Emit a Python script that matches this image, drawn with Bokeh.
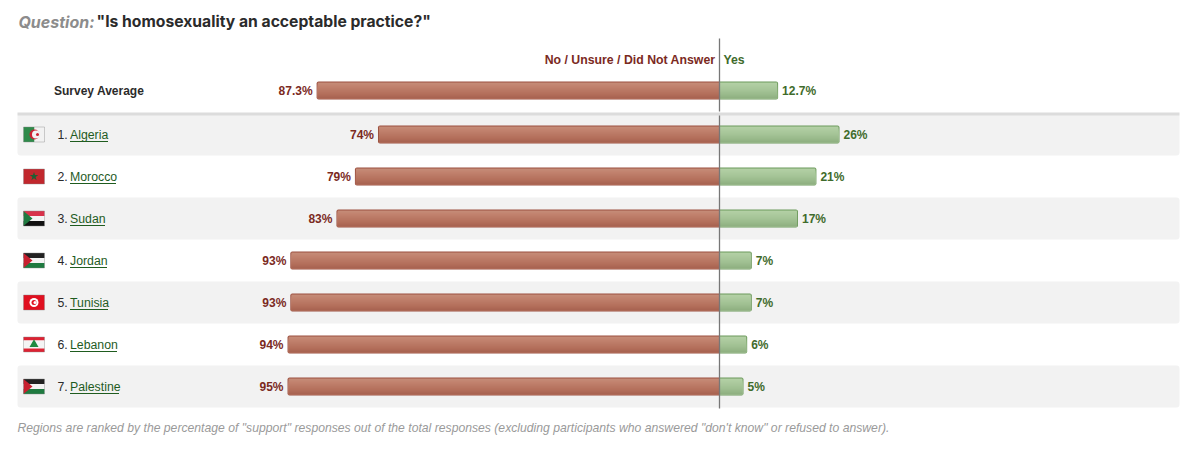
from bokeh.plotting import figure
from bokeh.embed import file_html
from bokeh.resources import INLINE
from bokeh.models import Range1d
from bokeh.core.properties import value

# ---- data ----
countries = ["Algeria", "Morocco", "Sudan", "Jordan", "Tunisia", "Lebanon", "Palestine"]
no_bar = [74, 79, 83, 93, 93, 93.6, 93.6]
yes_bar = [26, 21, 17, 7, 7, 6, 5.2]
no_labels = ["74%", "79%", "83%", "93%", "93%", "94%", "95%"]
yes_labels = ["26%", "21%", "17%", "7%", "7%", "6%", "5%"]
avg_no = 87.3
avg_yes = 12.7
avg_label_no = "87.3%"
avg_label_yes = "12.7%"

W, H = 1200, 466
SCALE = 4.615            # pixels per percentage point
ZERO = 719

p = figure(width=W, height=H, output_backend="svg", toolbar_location=None,
           x_range=Range1d(-ZERO / SCALE, (W - ZERO) / SCALE),
           y_range=Range1d(H, 0), min_border=0,
           background_fill_color="white", border_fill_color="white")
p.extra_x_ranges["px"] = Range1d(0, W)
p.axis.visible = False
p.grid.visible = False
p.outline_line_color = None

DARK = "#2b2b2b"
RED = "#7b2a1e"
GREEN = "#3f6b2c"
LINK = "#1f5c1f"
FONT = value("Liberation Sans")
row_c = [134, 176, 218, 260, 302, 344, 386]
avg_c = 90


def txt(x, y, s, size="12px", color=DARK, style="normal", align="left", font=FONT):
    p.text(x=[x], y=[y], text=[s], text_font=font, text_font_size=size,
           text_color=color, text_font_style=style, text_align=align, text_baseline="middle",
           x_range_name="px")


# row backgrounds
for i, c in enumerate(row_c):
    if i % 2 == 0:
        p.quad(left=[17], right=[1179], top=[c - 21], bottom=[c + 21],
               fill_color="#f2f2f2", line_color=None, border_radius=3, x_range_name="px")
# separator below the average row
p.quad(left=[17], right=[1179], top=[112], bottom=[115], fill_color="#dcdcdc",
       line_color=None, x_range_name="px")

RED_BANDS = ["#c48a76", "#c28470", "#bf7f6b", "#bb7a66", "#b87561", "#b4705c", "#af6a57", "#a96452"]
GREEN_BANDS = ["#b2cfa4", "#aecca0", "#aac89c", "#a6c598", "#a1c193", "#9cbc8e", "#96b788", "#90b182"]
BAR_H = 18


def bar(c, v, sign, border, bands):
    left, right = (sign * v, 0) if sign < 0 else (0, v)
    radius = dict(top_left=2, bottom_left=2) if sign < 0 else dict(top_right=2, bottom_right=2)
    p.hbar(y=[c], left=[left], right=[right], height=BAR_H, fill_color=border,
           line_color=None, border_radius=radius)
    inset = 1 / SCALE
    n = len(bands)
    bh = (BAR_H - 2) / n
    l2 = left + inset if sign < 0 else left
    r2 = right if sign < 0 else right - inset
    # painted top to bottom, each band running under the next, so no seams show
    for k, col in enumerate(bands):
        top = c - BAR_H / 2 + 1 + bh * k
        bottom = c + BAR_H / 2 - 1
        p.quad(left=[l2], right=[r2], top=[top], bottom=[bottom], fill_color=col, line_color=None)


all_c = [avg_c] + row_c
all_no = [avg_no] + no_bar
all_yes = [avg_yes] + yes_bar
all_nl = [avg_label_no] + no_labels
all_yl = [avg_label_yes] + yes_labels
for c, n, y, nl, yl in zip(all_c, all_no, all_yes, all_nl, all_yl):
    bar(c, n, -1, "#9c5141", RED_BANDS)
    bar(c, y, 1, "#6d9a5c", GREEN_BANDS)
    p.text(x=[-n - 4 / SCALE], y=[c], text=[nl], text_font=FONT, text_font_size="12px", text_color=RED,
           text_font_style="bold", text_align="right", text_baseline="middle")
    p.text(x=[y + 4 / SCALE], y=[c], text=[yl], text_font=FONT, text_font_size="12px", text_color=GREEN,
           text_font_style="bold", text_align="left", text_baseline="middle")

# centre line, broken at the separator
for y0, y1 in [(38, 111), (115, 408)]:
    p.segment(x0=[0], x1=[0], y0=[y0], y1=[y1], line_color="#777777", line_width=1.3)

# title
txt(18, 21, "Question:", "16px", "#8c8c8c", "bold italic", font=value("Inter"))
txt(96, 21, "\"Is homosexuality an acceptable practice?\"", "15.7px", "#2b2b2b", "bold", font=value("Inter"))

# column headers
txt(715, 59, "No / Unsure / Did Not Answer", "12.3px", RED, "bold", "right")
txt(723, 59, "Yes", "12.3px", GREEN, "bold")
txt(53.5, 90, "Survey Average", "12px", DARK, "bold")

# country labels and link underlines
under = [38, 46, 35, 37, 38, 47, 49]
for i, (c, name, w) in enumerate(zip(row_c, countries, under)):
    txt(57, c, f"{i + 1}.", "12.3px", DARK)
    txt(69.5, c, name, "12.3px", LINK)
    p.segment(x0=[69.5], x1=[69.5 + w], y0=[c + 7], y1=[c + 7], line_color=LINK,
              line_width=1, x_range_name="px")

# flags
FL, FR = 23, 44
FH = 7.5


def stripe(c, a, b, col, l=FL, r=FR):
    p.quad(left=[l], right=[r], top=[c + a], bottom=[c + b], fill_color=col,
           line_color=None, x_range_name="px")


def tri(c, col, tip):
    p.patch(x=[FL, FL + tip, FL], y=[c - FH, c, c + FH], fill_color=col,
            line_color=None, x_range_name="px")


def dot(x, y, r, col):
    p.circle(x=[x], y=[y], radius=r, radius_units="screen", fill_color=col, line_color=None,
             x_range_name="px")


def tricolor(c, top, mid, bot):
    stripe(c, -FH, -2.5, top)
    stripe(c, -2.5, 2.5, mid)
    stripe(c, 2.5, FH, bot)


def frame(c):
    p.quad(left=[FL], right=[FR], top=[c - FH], bottom=[c + FH], fill_color=None,
           line_color="#8a8a8a", line_alpha=0.4, line_width=1, x_range_name="px")


# Algeria
c = row_c[0]
stripe(c, -FH, FH, "#2f8a4a", FL, 34)
stripe(c, -FH, FH, "#f2f2f2", 34, FR)
dot(34, c, 5, "#cc2233")
dot(35.5, c, 4, "#f2f2f2")
dot(37, c, 1.5, "#cc2233")
frame(c)
# Morocco
c = row_c[1]
stripe(c, -FH, FH, "#c1272d")
p.scatter(x=[33.5], y=[c], size=9, marker="star", fill_color="#1f5f33", line_color=None,
          x_range_name="px")
frame(c)
# Sudan
c = row_c[2]
tricolor(c, "#d8324a", "#f4f4f4", "#111111")
tri(c, "#1f7a40", 9)
frame(c)
# Jordan
c = row_c[3]
tricolor(c, "#222222", "#f4f4f4", "#1f7a40")
tri(c, "#c8202f", 9)
frame(c)
# Tunisia
c = row_c[4]
stripe(c, -FH, FH, "#e01020")
dot(33.5, c, 4.5, "#ffffff")
dot(33.5, c, 2.5, "#e01020")
dot(34.5, c, 1.5, "#ffffff")
frame(c)
# Lebanon
c = row_c[5]
stripe(c, -FH, -4, "#dd2233")
stripe(c, -4, 4, "#f4f4f4")
stripe(c, 4, FH, "#dd2233")
p.scatter(x=[33.5], y=[c], size=9, marker="triangle", fill_color="#1f8a40", line_color=None,
          x_range_name="px")
frame(c)
# Palestine
c = row_c[6]
tricolor(c, "#222222", "#f4f4f4", "#1f7a40")
tri(c, "#c8202f", 9)
frame(c)

# footnote
txt(17, 427,
    "Regions are ranked by the percentage of \"support\" responses out of the total responses "
    "(excluding participants who answered \"don't know\" or refused to answer).",
    "12.2px", "#9a9a9a", "italic")

open("out.html", "w").write(file_html(p, INLINE))
